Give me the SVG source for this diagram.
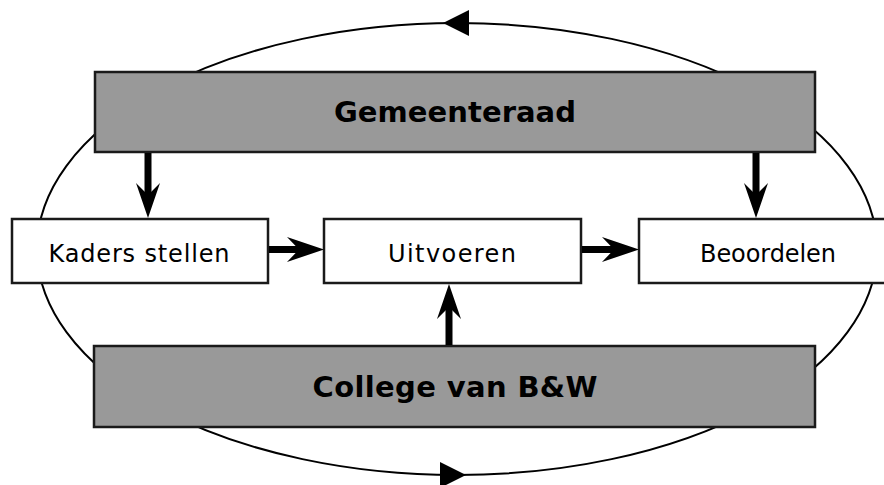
<svg xmlns="http://www.w3.org/2000/svg" width="884" height="485" viewBox="0 0 884 485">
  <style>
    .ring { fill: none; stroke: #000; stroke-width: 2; }
    .board { fill: #999999; stroke: #1a1a1a; stroke-width: 2.5; }
    .step { fill: #ffffff; stroke: #1a1a1a; stroke-width: 2.5; }
    .title { font-family: "DejaVu Sans", "Liberation Sans", sans-serif; font-weight: bold; font-size: 29px; fill: #000; text-anchor: middle; }
    .label { font-family: "DejaVu Sans", "Liberation Sans", sans-serif; font-size: 24px; fill: #000; text-anchor: middle; }
    .shaft { stroke: #000; stroke-width: 7; fill: none; }
    .head { fill: #000; }
  </style>

  <!-- outer cycle -->
  <g id="cycle">
    <ellipse class="ring" cx="457" cy="249" rx="420" ry="226"/>
    <polygon class="head" points="443,23 469,10 469,36"/>
    <polygon class="head" points="466,475 440,462 440,488"/>
  </g>

  <!-- boards -->
  <g id="gemeenteraad">
    <rect class="board" x="95" y="72" width="720" height="80"/>
    <text class="title" x="455" y="122" textLength="242" lengthAdjust="spacing">Gemeenteraad</text>
  </g>
  <g id="college">
    <rect class="board" x="94" y="346" width="721" height="81"/>
    <text class="title" x="455" y="397" textLength="285" lengthAdjust="spacing">College van B&amp;W</text>
  </g>

  <!-- process steps -->
  <g id="kaders">
    <rect class="step" x="12" y="219" width="256" height="64"/>
    <text class="label" x="139" y="262" textLength="181" lengthAdjust="spacing">Kaders stellen</text>
  </g>
  <g id="uitvoeren">
    <rect class="step" x="324" y="219" width="257" height="64"/>
    <text class="label" x="452" y="262" textLength="128" lengthAdjust="spacing">Uitvoeren</text>
  </g>
  <g id="beoordelen">
    <rect class="step" x="639" y="219" width="260" height="64"/>
    <text class="label" x="768" y="262" textLength="136" lengthAdjust="spacing">Beoordelen</text>
  </g>

  <!-- connectors -->
  <g id="connectors">
    <line class="shaft" x1="148" y1="153" x2="148" y2="198"/>
    <polygon class="head" points="148,218 136,183 148,195 160,183"/>

    <line class="shaft" x1="756" y1="153" x2="756" y2="198"/>
    <polygon class="head" points="756,218 744,183 756,195 768,183"/>

    <line class="shaft" x1="269" y1="249.5" x2="302" y2="249.5"/>
    <polygon class="head" points="324,249.5 287,237 299,249.5 287,262"/>

    <line class="shaft" x1="582" y1="249.5" x2="617" y2="249.5"/>
    <polygon class="head" points="639,249.5 602,237 614,249.5 602,262"/>

    <line class="shaft" x1="449" y1="345" x2="449" y2="305"/>
    <polygon class="head" points="449,284 437,319 449,307 461,319"/>
  </g>
</svg>
